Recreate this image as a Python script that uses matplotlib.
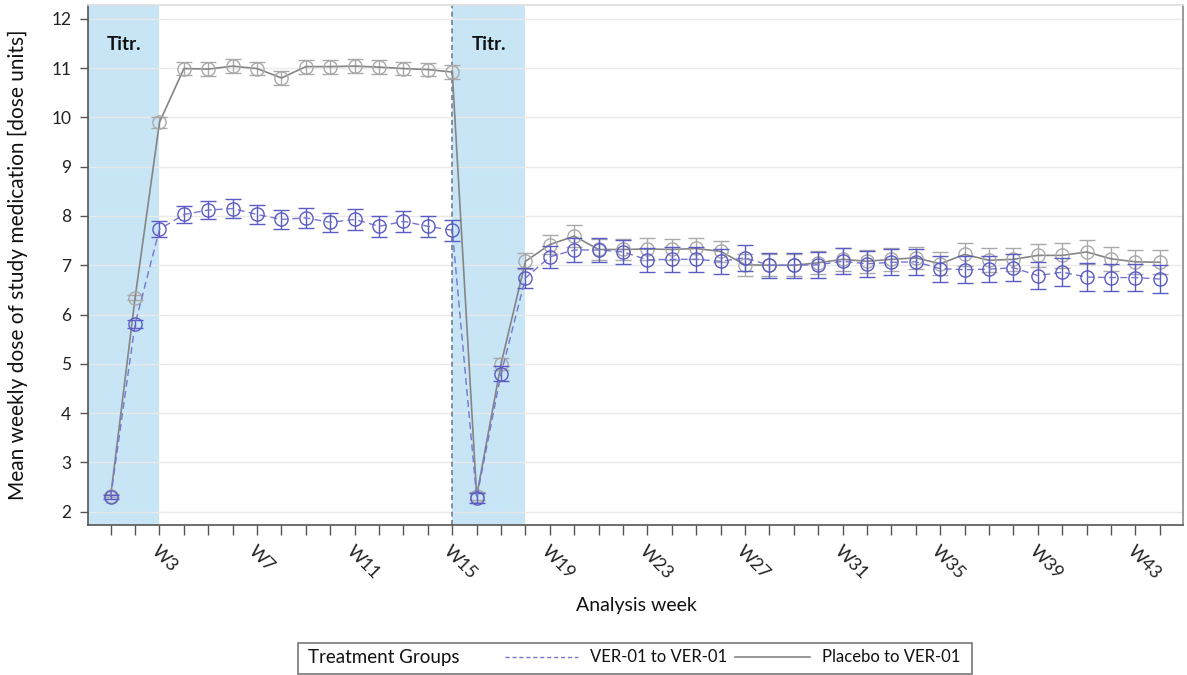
import numpy as np
import matplotlib.pyplot as plt
from matplotlib.lines import Line2D
from matplotlib.patches import Rectangle

plt.rcParams['font.family'] = ['Lato', 'DejaVu Sans']

# ── Data ─────────────────────────────────────────────────────────────────────
weeks = list(range(1, 45))

ver_mean = [2.30, 5.81, 7.73, 8.03, 8.12, 8.15, 8.03, 7.93, 7.96, 7.87, 7.93,
            7.79, 7.89, 7.79, 7.71, 2.28, 4.80, 6.74, 7.17, 7.31, 7.31, 7.27,
            7.11, 7.12, 7.12, 7.08, 7.15, 7.00, 7.00, 7.01, 7.08, 7.03, 7.06,
            7.07, 6.93, 6.91, 6.92, 6.95, 6.79, 6.86, 6.76, 6.75, 6.75, 6.72]
ver_err = [0.04, 0.08, 0.16, 0.18, 0.19, 0.20, 0.20, 0.20, 0.20, 0.20, 0.21,
           0.21, 0.21, 0.21, 0.21, 0.10, 0.15, 0.20, 0.23, 0.24, 0.24, 0.25,
           0.25, 0.25, 0.25, 0.25, 0.26, 0.25, 0.25, 0.26, 0.26, 0.26, 0.26,
           0.26, 0.26, 0.27, 0.27, 0.27, 0.28, 0.28, 0.28, 0.28, 0.28, 0.28]

pbo_mean = [2.32, 6.34, 9.90, 10.99, 10.98, 11.04, 10.99, 10.80, 11.03, 11.03, 11.04,
            11.02, 10.99, 10.97, 10.92, 2.32, 5.00, 7.08, 7.42, 7.59, 7.32, 7.32,
            7.33, 7.32, 7.34, 7.28, 7.01, 7.00, 7.00, 7.05, 7.12, 7.08, 7.12,
            7.15, 7.03, 7.22, 7.10, 7.12, 7.20, 7.20, 7.27, 7.13, 7.07, 7.06]
pbo_err = [0.03, 0.05, 0.11, 0.14, 0.14, 0.14, 0.14, 0.14, 0.14, 0.14, 0.14,
           0.14, 0.14, 0.14, 0.15, 0.08, 0.12, 0.16, 0.20, 0.22, 0.22, 0.22,
           0.22, 0.22, 0.22, 0.22, 0.22, 0.22, 0.22, 0.23, 0.23, 0.23, 0.23,
           0.23, 0.23, 0.24, 0.24, 0.24, 0.24, 0.25, 0.25, 0.25, 0.24, 0.24]

labelled_weeks = [3, 7, 11, 15, 19, 23, 27, 31, 35, 39, 43]
titration_periods = [(0.07, 3), (15, 18)]
restart_week = 15

BLUE = '#5b5bc4'
BLUE_LINE = '#7676cf'
GREY = '#a9a9a9'
GREY_LINE = '#858585'
SPAN = '#c7e5f5'

# ── Figure ──────────────────────────────────────────────────────────────────
W, H = 1187, 675
fig = plt.figure(figsize=(W / 100, H / 100), dpi=100)
ax = fig.add_axes([88 / W, 1 - 525 / H, (1183 - 88) / W, (525 - 5) / H])

for x0, x1 in titration_periods:
    ax.axvspan(x0, x1, color=SPAN, lw=0, zorder=0)
    ax.text((x0 + x1) / 2, 11.47, 'Titr.', ha='center', va='center',
            fontsize=13.5, fontweight='bold', color='#111111')
ax.axvline(restart_week, color='#6f7f90', ls=(0, (3, 2)), lw=1.2, zorder=1)

for y in range(2, 13):
    ax.axhline(y, color='#e9e9e9', lw=1, zorder=0.5)

ax.errorbar(weeks, pbo_mean, yerr=pbo_err, color=GREY_LINE, lw=1.2,
            marker='o', ms=9.5, mfc='none', mec=GREY, mew=1.0,
            ecolor=GREY, elinewidth=1.0, capsize=6, capthick=1.0, zorder=2)
ax.errorbar(weeks, ver_mean, yerr=ver_err, color=BLUE_LINE, lw=1.0, ls=(0, (5, 3)),
            marker='o', ms=9.5, mfc='none', mec=BLUE, mew=1.0,
            ecolor=BLUE, elinewidth=1.0, capsize=6, capthick=1.0, zorder=3)

ax.set_xlim(0.07, 44.95)
ax.set_ylim(1.73, 12.28)

ax.set_xticks(weeks)
ax.set_xticklabels([f'W{w}' if w in labelled_weeks else '' for w in weeks],
                   rotation=-45, ha='left', va='top', rotation_mode='anchor',
                   fontsize=13)
ax.set_yticks(range(2, 13))
ax.tick_params(axis='x', length=7, width=1, color='#555555', pad=6,
               labelcolor='#222222')
ax.tick_params(axis='y', length=6, width=1, color='#555555', pad=6,
               labelsize=12.5, labelcolor='#222222')

for side, col in [('left', '#555555'), ('bottom', '#555555'),
                  ('top', '#dddddd'), ('right', '#8a8a8a')]:
    ax.spines[side].set_color(col)
    ax.spines[side].set_linewidth(1.2)

fig.text(636 / W, 1 - 605 / H, 'Analysis week', ha='center', va='center',
         fontsize=14, color='#111111')
fig.text(18 / W, 1 - 265 / H, 'Mean weekly dose of study medication [dose units]',
         ha='center', va='center', rotation=90, fontsize=15, color='#111111')

# ── Legend box ────────────────────────────────────────────────────────────────
fig.add_artist(Rectangle((298 / W, 1 - 674 / H), 674 / W, 31 / H,
                         transform=fig.transFigure, fill=False,
                         ec='#777777', lw=1.2))
ly = 1 - 657 / H
fig.text(308 / W, ly, 'Treatment Groups', ha='left', va='center',
         fontsize=13.5, color='#111111')
fig.add_artist(Line2D([505 / W, 578 / W], [ly, ly], transform=fig.transFigure,
                      color=BLUE_LINE, lw=1.0, ls=(0, (3, 2))))
fig.text(590 / W, ly, 'VER-01 to VER-01', ha='left', va='center',
         fontsize=12, color='#111111')
fig.add_artist(Line2D([735 / W, 810 / W], [ly, ly], transform=fig.transFigure,
                      color=GREY_LINE, lw=1.2))
fig.text(822 / W, ly, 'Placebo to VER-01', ha='left', va='center',
         fontsize=12, color='#111111')

fig.savefig('out.png', dpi=100)
